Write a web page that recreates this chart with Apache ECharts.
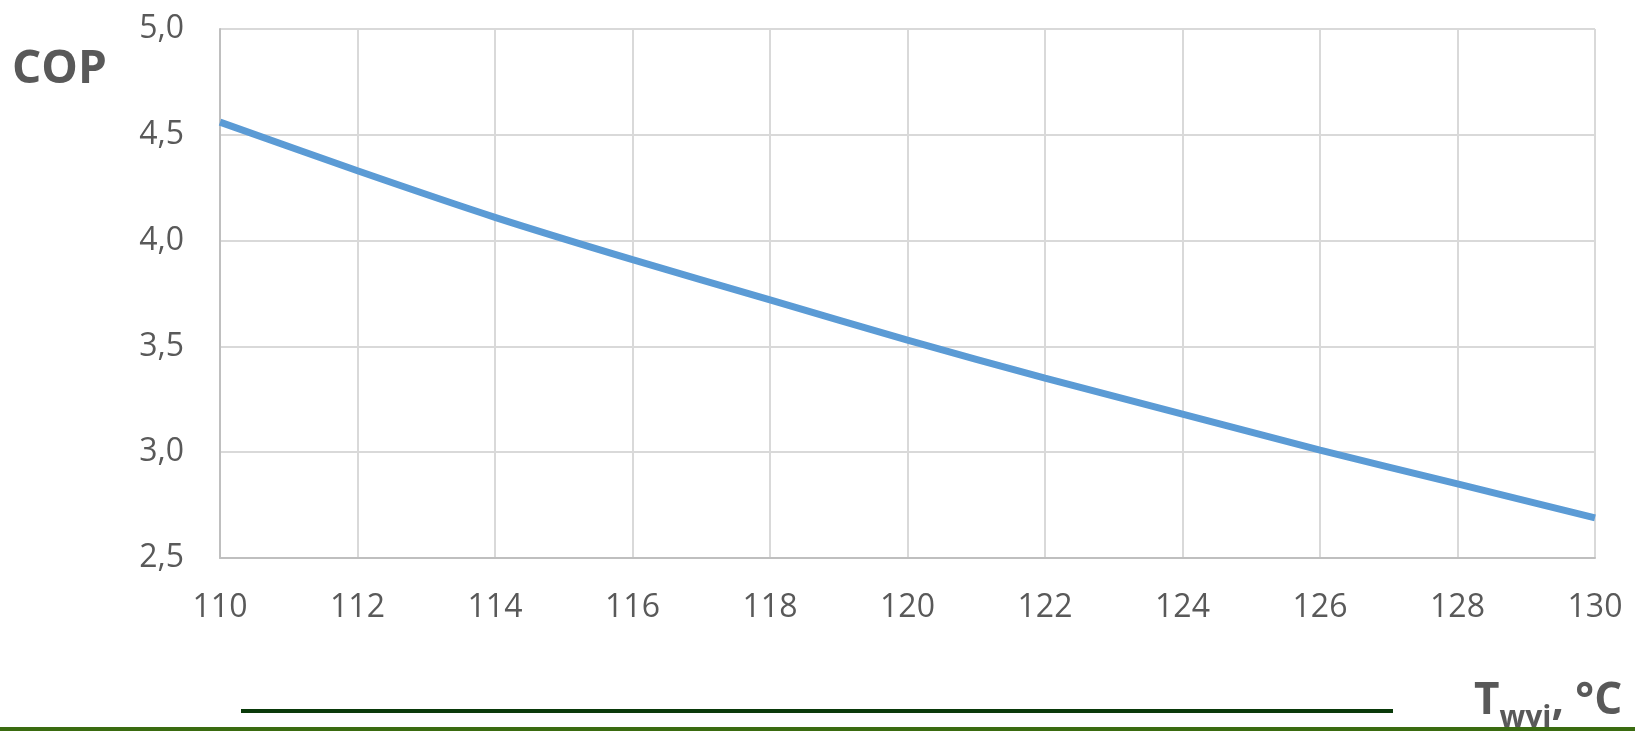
<!DOCTYPE html>
<html>

<head>
  <meta charset="utf-8">
  <title>COP vs Twyj</title>
  <script src="https://cdn.jsdelivr.net/npm/echarts@6/dist/echarts.min.js"></script>
</head>

<body style="margin:0; background:#fff;">
  <div id="main" style="width: 1635px; height: 731px;"></div>
  <script type="text/javascript">
    // temperatura wyjściowa [°C] i odczytane COP
    var tempValues = [110, 112, 114, 116, 118, 120, 122, 124, 126, 128, 130];
    var copValues = [4.56, 4.33, 4.11, 3.91, 3.72, 3.53, 3.35, 3.18, 3.01, 2.85, 2.69];
    var yTicks = [2.5, 3.0, 3.5, 4.0, 4.5, 5.0];

    var seriesData = tempValues.map(function (t, i) { return [t, copValues[i]]; });

    var myChart = echarts.init(document.getElementById('main'));
    var font = '"Open Sans", sans-serif';

    myChart.setOption({
      animation: false,
      grid: { left: 220, right: 40, top: 29, bottom: 173 },
      xAxis: {
        type: 'value',
        min: 110,
        max: 130,
        interval: 2,
        axisLine: { show: true, lineStyle: { color: '#bfbfbf', width: 2 } },
        axisTick: { show: false },
        axisLabel: { color: '#595959', fontSize: 32, fontFamily: font, margin: 34 },
        splitLine: { show: true, lineStyle: { color: '#d9d9d9', width: 2 } }
      },
      yAxis: {
        type: 'value',
        min: yTicks[0],
        max: yTicks[yTicks.length - 1],
        interval: 0.5,
        axisLine: { show: true, lineStyle: { color: '#bfbfbf', width: 2 } },
        axisTick: { show: false },
        axisLabel: {
          color: '#595959', fontSize: 32, fontFamily: font, margin: 36,
          formatter: function (v) { return v.toFixed(1).replace('.', ','); }
        },
        splitLine: { show: true, lineStyle: { color: '#d9d9d9', width: 2 } }
      },
      series: [{
        type: 'line',
        data: seriesData,
        showSymbol: false,
        smooth: 0.3,
        lineStyle: { color: '#5b9bd5', width: 7 }
      }],
      graphic: [
        {
          type: 'text', left: 12, top: 47,
          style: { text: 'COP', font: 'bold 46px "Open Sans", sans-serif', fill: '#595959' }
        },
        {
          type: 'text', left: 1474, top: 679,
          style: {
            text: '{b|T}{s|wyj}{b|, °C}',
            fill: '#595959',
            rich: {
              b: { font: 'bold 44px "Open Sans", sans-serif', fill: '#595959' },
              s: { font: 'bold 30px "Open Sans", sans-serif', fill: '#595959', padding: [34, 0, 0, 0] }
            }
          }
        },
        {
          type: 'rect', shape: { x: 241, y: 709, width: 1152, height: 4 },
          style: { fill: '#0a3a0a' }
        },
        {
          type: 'rect', shape: { x: 0, y: 727, width: 1635, height: 4 },
          style: { fill: '#3a6b10' }
        }
      ]
    });
  </script>
</body>

</html>
